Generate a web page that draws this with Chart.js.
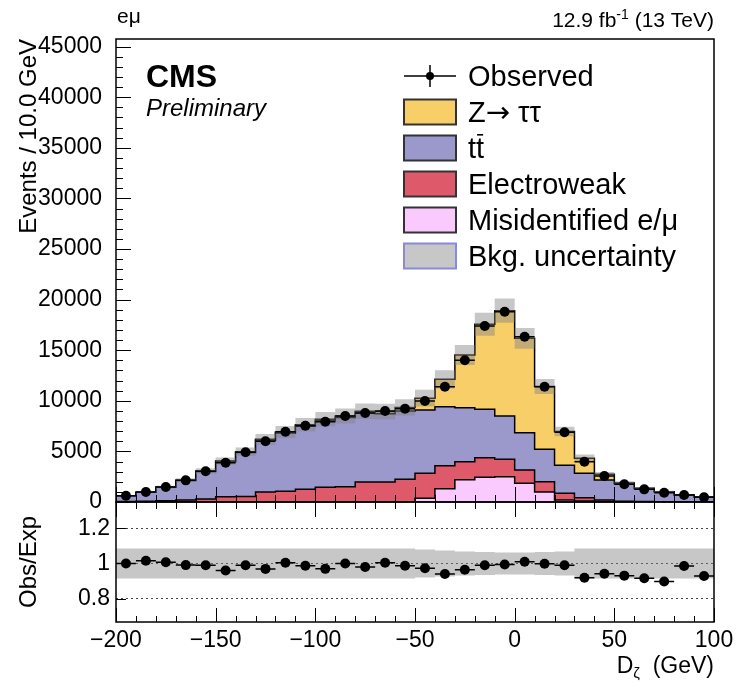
<!DOCTYPE html>
<html>
<head>
<meta charset="utf-8">
<script src="https://cdn.jsdelivr.net/npm/chart.js@4.4.1/dist/chart.umd.min.js"></script>
<style>
  html, body { margin: 0; padding: 0; background: #fff; }
  #wrap { position: relative; width: 744px; height: 684px; }
  #wrap canvas { position: absolute; left: 0; top: 0; }
</style>
</head>
<body>
<div id="wrap">
  <canvas id="mainChart" width="744" height="684"></canvas>
  <canvas id="ratioChart" width="744" height="684"></canvas>
</div>
<script>
// D_zeta distribution, e-mu channel, 10 GeV bins
const binCenters = [-195, -185, -175, -165, -155, -145, -135, -125, -115, -105,
                    -95, -85, -75, -65, -55, -45, -35, -25, -15, -5,
                    5, 15, 25, 35, 45, 55, 65, 75, 85, 95];
const binWidth = 10;

const observed = [620, 990, 1480, 2140, 3030, 3880, 4910, 6000, 6950, 7540,
                  7930, 8500, 8790, 8990, 9220, 9980, 11390, 14000, 17390, 18800,
                  16330, 11390, 6890, 3980, 2570, 1750, 1250, 920, 690, 460];

// background components, bottom of the stack first
const misid = [0, 0, 0, 0, 0, 0, 0, 0, 0, 0,
               0, 0, 0, 0, 0, 380, 1300, 2200, 2450, 2500,
               1850, 1000, 200, 100, 30, 0, 0, 0, 0, 0];
const ewk = [50, 80, 120, 200, 300, 520, 550, 990, 1050, 1250,
             1450, 1510, 1980, 1980, 2260, 2450, 2290, 1780, 1930, 1720,
             1310, 1010, 660, 330, 170, 80, 50, 30, 20, 10];
const ttbar = [560, 880, 1330, 1930, 2720, 3470, 4350, 5120, 5770, 6270,
               6590, 6830, 6810, 6750, 6730, 6260, 5830, 5340, 4780, 4280,
               3690, 3190, 2760, 2400, 1970, 1760, 1290, 980, 670, 480];
const ztt = [10, 15, 20, 30, 40, 50, 60, 80, 100, 120,
             140, 160, 180, 220, 350, 1170, 2700, 5200, 8410, 10410,
             9320, 6210, 3340, 1500, 560, 40, 25, 15, 10, 5];

// relative background uncertainty per bin
const bkgUnc = [0.086, 0.086, 0.086, 0.086, 0.086, 0.086, 0.086, 0.086, 0.086, 0.086,
                0.086, 0.086, 0.086, 0.086, 0.086, 0.080, 0.074, 0.068, 0.065, 0.063,
                0.063, 0.065, 0.068, 0.086, 0.086, 0.086, 0.086, 0.086, 0.086, 0.086];

const yTicks = [0, 5000, 10000, 15000, 20000, 25000, 30000, 35000, 40000, 45000];
const ratioTicks = [0.8, 1.0, 1.2];

const legendLabels = ['Observed', 'Z\u2192 \u03c4\u03c4', 'tt', 'Electroweak', 'Misidentified e/\u03bc', 'Bkg. uncertainty'];

const colZtt = '#f8ce68';
const colTtbar = '#9b98cc';
const colEwk = '#de5a6a';
const colMisid = '#facaff';
const colUnc = 'rgba(130,130,130,0.45)';

const FONT = "'Liberation Sans', Arial, Helvetica, sans-serif";
Chart.defaults.font.family = FONT;
Chart.defaults.color = '#000';

// cumulative stack
const cumMisid = misid.slice();
const cumEwk = cumMisid.map((v, i) => v + ewk[i]);
const cumTtbar = cumEwk.map((v, i) => v + ttbar[i]);
const expected = cumTtbar.map((v, i) => v + ztt[i]);
const ratio = observed.map((v, i) => v / expected[i]);

function stepPoints(vals) {
    const pts = vals.map((v, i) => ({ x: binCenters[i] - binWidth / 2, y: v }));
    pts.push({ x: binCenters[vals.length - 1] + binWidth / 2, y: vals[vals.length - 1] });
    return pts;
}

function histSet(vals, color) {
    return {
        data: stepPoints(vals),
        stepped: 'before',
        fill: 'origin',
        backgroundColor: color,
        borderColor: '#000',
        borderWidth: 1.5,
        pointRadius: 0
    };
}

function bandSets(lo, hi) {
    return [
        { data: stepPoints(hi), stepped: 'before', fill: false, borderWidth: 0, pointRadius: 0 },
        { data: stepPoints(lo), stepped: 'before', fill: '-1', backgroundColor: colUnc, borderWidth: 0, pointRadius: 0 }
    ];
}

function pointSet(vals) {
    return {
        data: vals.map((v, i) => ({ x: binCenters[i], y: v })),
        showLine: false,
        pointRadius: 5,
        pointBackgroundColor: '#000',
        pointBorderWidth: 0
    };
}

function frame(chart) {
    const { ctx, chartArea: a } = chart;
    ctx.save();
    ctx.strokeStyle = '#000';
    ctx.lineWidth = 1.5;
    ctx.strokeRect(a.left, a.top, a.right - a.left, a.bottom - a.top);
    ctx.restore();
}

// ROOT style tick marks pointing into the frame
function tickMarks(chart, axis, side, majorStep, minorStep, majorLen, minorLen) {
    const { ctx, chartArea: a } = chart;
    const s = chart.scales[axis];
    const n0 = Math.ceil(s.min / minorStep - 1e-9);
    const n1 = Math.floor(s.max / minorStep + 1e-9);
    ctx.save();
    ctx.strokeStyle = '#000';
    ctx.lineWidth = 1;
    ctx.beginPath();
    for (let n = n0; n <= n1; n++) {
        const v = n * minorStep;
        const r = v / majorStep;
        const len = Math.abs(r - Math.round(r)) < 1e-6 ? majorLen : minorLen;
        const p = Math.round(s.getPixelForValue(v)) + 0.5;
        if (side === 'left') { ctx.moveTo(a.left, p); ctx.lineTo(a.left + len, p); }
        else if (side === 'bottom') { ctx.moveTo(p, a.bottom); ctx.lineTo(p, a.bottom - len); }
        else if (side === 'top') { ctx.moveTo(p, a.top); ctx.lineTo(p, a.top + len); }
    }
    ctx.stroke();
    ctx.restore();
}

function xErrorBars(chart, dsIndex) {
    const { ctx } = chart;
    const xs = chart.scales.x;
    const meta = chart.getDatasetMeta(dsIndex);
    ctx.save();
    ctx.strokeStyle = '#000';
    ctx.lineWidth = 1.5;
    ctx.beginPath();
    meta.data.forEach((pt, i) => {
        ctx.moveTo(xs.getPixelForValue(binCenters[i] - binWidth / 2), pt.y);
        ctx.lineTo(xs.getPixelForValue(binCenters[i] + binWidth / 2), pt.y);
    });
    ctx.stroke();
    ctx.restore();
}

// text where the arrow glyph comes from DejaVu (wider, centred arrow)
function fillMixed(ctx, text, x, y, size) {
    let cx = x;
    for (const ch of text) {
        ctx.font = size + 'px ' + (ch === '\u2192' ? "'DejaVu Sans'" : FONT);
        ctx.fillText(ch, cx, y);
        cx += ctx.measureText(ch).width;
    }
}

function drawLegend(ctx) {
    const x0 = 404, w = 52, h = 25, tx = 468, rowH = 36, top = 76;
    const fills = [null, colZtt, colTtbar, colEwk, colMisid, 'rgb(199,199,199)'];
    ctx.save();
    ctx.font = '29px ' + FONT;
    ctx.textBaseline = 'alphabetic';
    ctx.fillStyle = '#000';
    legendLabels.forEach((lab, i) => {
        const cy = top + i * rowH;
        if (i === 0) {
            ctx.strokeStyle = '#000';
            ctx.lineWidth = 1.5;
            ctx.beginPath();
            ctx.moveTo(x0, cy); ctx.lineTo(x0 + w, cy);
            ctx.moveTo(x0 + w / 2, cy - 11); ctx.lineTo(x0 + w / 2, cy + 11);
            ctx.stroke();
            ctx.beginPath();
            ctx.arc(x0 + w / 2, cy, 4, 0, Math.PI * 2);
            ctx.fill();
        } else {
            ctx.fillStyle = fills[i];
            ctx.fillRect(x0, cy - h / 2, w, h);
            ctx.strokeStyle = i === 5 ? '#8a8ad6' : '#333';
            ctx.lineWidth = 2;
            ctx.strokeRect(x0, cy - h / 2, w, h);
            ctx.fillStyle = '#000';
        }
        if (i === 1) {
            fillMixed(ctx, lab, tx, cy + 10, 29);
            ctx.font = '29px ' + FONT;
        } else {
            ctx.fillText(lab, tx, cy + 10);
        }
        if (i === 2) {
            // bar over the second t
            const w1 = ctx.measureText('t').width;
            const w2 = ctx.measureText('tt').width;
            ctx.fillRect(tx + w1 + 1, cy - 14, w2 - w1 - 2, 1.6);
        }
    });
    ctx.restore();
}

const mainPlugin = {
    id: 'mainDecor',
    afterDatasetsDraw(chart) {
        xErrorBars(chart, 0);
    },
    afterDraw(chart) {
        const { ctx } = chart;
        frame(chart);
        tickMarks(chart, 'y', 'left', 5000, 1000, 15, 7);
        tickMarks(chart, 'x', 'bottom', 50, 10, 15, 7);
        drawLegend(ctx);

        ctx.save();
        ctx.fillStyle = '#000';
        ctx.textBaseline = 'alphabetic';
        ctx.font = 'bold 32px ' + FONT;
        ctx.fillText('CMS', 146, 87);
        ctx.font = 'italic 24px ' + FONT;
        ctx.fillText('Preliminary', 146, 116);
        ctx.font = '21px ' + FONT;
        ctx.fillText('e\u03bc', 117, 23);

        // luminosity label, right aligned to the frame
        const big = '21px ' + FONT, small = '14px ' + FONT;
        const p1 = '12.9 fb', p2 = '-1', p3 = ' (13 TeV)';
        ctx.font = big;
        const w1 = ctx.measureText(p1).width, w3 = ctx.measureText(p3).width;
        ctx.font = small;
        const w2 = ctx.measureText(p2).width;
        let x = chart.chartArea.right - (w1 + w2 + w3);
        ctx.font = big; ctx.fillText(p1, x, 27); x += w1;
        ctx.font = small; ctx.fillText(p2, x, 19); x += w2;
        ctx.font = big; ctx.fillText(p3, x, 27);
        ctx.restore();
    }
};

const ratioPlugin = {
    id: 'ratioDecor',
    afterDatasetsDraw(chart) {
        xErrorBars(chart, 0);
    },
    afterDraw(chart) {
        const { ctx } = chart;
        frame(chart);
        tickMarks(chart, 'y', 'left', 0.2, 0.2, 10, 10);
        tickMarks(chart, 'x', 'bottom', 50, 10, 14, 6);
        tickMarks(chart, 'x', 'top', 50, 10, 15, 7);

        // x axis title with subscript
        ctx.save();
        ctx.fillStyle = '#000';
        ctx.textBaseline = 'alphabetic';
        const big = '23px ' + FONT, small = '15px ' + FONT;
        const p1 = 'D', p2 = '\u03b6', p3 = '  (GeV)';
        ctx.font = big;
        const w1 = ctx.measureText(p1).width, w3 = ctx.measureText(p3).width;
        ctx.font = small;
        const w2 = ctx.measureText(p2).width;
        let x = chart.chartArea.right - (w1 + w2 + w3);
        const base = 673;
        ctx.font = big; ctx.fillText(p1, x, base); x += w1;
        ctx.font = small; ctx.fillText(p2, x, base + 5); x += w2;
        ctx.font = big; ctx.fillText(p3, x, base);
        ctx.restore();
    }
};

const fixedWidth = (s) => { s.width = 116; };

new Chart(document.getElementById('mainChart'), {
    type: 'line',
    data: {
        datasets: [
            pointSet(observed),
            ...bandSets(expected.map((v, i) => v * (1 - bkgUnc[i])), expected.map((v, i) => v * (1 + bkgUnc[i]))),
            histSet(cumMisid, colMisid),
            histSet(cumEwk, colEwk),
            histSet(cumTtbar, colTtbar),
            histSet(expected, colZtt)
        ]
    },
    options: {
        responsive: false,
        animation: false,
        devicePixelRatio: 1,
        layout: { padding: { top: 39, right: 30, bottom: 182, left: 0 } },
        plugins: { legend: { display: false }, tooltip: { enabled: false } },
        scales: {
            x: { type: 'linear', min: -200, max: 100, display: false },
            y: {
                min: 0, max: 45750,
                afterFit: fixedWidth,
                afterBuildTicks: (s) => { s.ticks = yTicks.map((v) => ({ value: v })); },
                grid: { display: false },
                border: { display: false },
                ticks: { padding: 6, font: { size: 23 }, callback: (v) => String(v) },
                title: { display: true, text: 'Events / 10.0 GeV', align: 'end', font: { size: 24 }, padding: { top: 15, bottom: 0 } }
            }
        }
    },
    plugins: [mainPlugin]
});

new Chart(document.getElementById('ratioChart'), {
    type: 'line',
    data: {
        datasets: [
            pointSet(ratio),
            ...bandSets(bkgUnc.map((u) => 1 - u), bkgUnc.map((u) => 1 + u))
        ]
    },
    options: {
        responsive: false,
        animation: false,
        devicePixelRatio: 1,
        layout: { padding: { top: 502, right: 30, bottom: 32, left: 0 } },
        plugins: { legend: { display: false }, tooltip: { enabled: false } },
        scales: {
            x: {
                type: 'linear', min: -200, max: 100,
                afterFit: (s) => { s.height = 30; },
                grid: { display: false },
                border: { display: false },
                ticks: {
                    stepSize: 50, padding: -3, maxRotation: 0, font: { size: 23 },
                    callback: (v) => (v < 0 ? '\u2212' + Math.abs(v) : String(v))
                }
            },
            y: {
                min: 0.667, max: 1.35,
                afterFit: fixedWidth,
                afterBuildTicks: (s) => { s.ticks = ratioTicks.map((v) => ({ value: v })); },
                grid: { display: true, drawTicks: false, color: '#444', lineWidth: 1 },
                border: { display: false, dash: [2, 3] },
                ticks: { padding: 6, font: { size: 23 }, callback: (v) => (v === 1 ? '1' : v.toFixed(1)) },
                title: { display: true, text: 'Obs/Exp', align: 'center', font: { size: 24 }, padding: { top: 15, bottom: 0 } }
            }
        }
    },
    plugins: [ratioPlugin]
});
</script>
</body>
</html>
